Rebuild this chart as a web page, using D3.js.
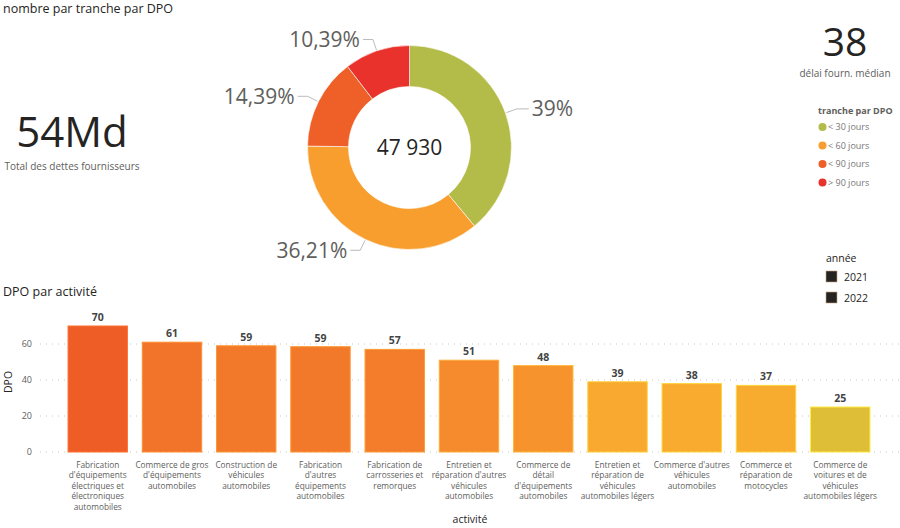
<!DOCTYPE html>
<html>
<head>
<meta charset="utf-8">
<script src="https://d3js.org/d3.v7.min.js"></script>
<style>
  body { margin: 0; background: #fff; }
  text { font-family: "Open Sans", "Noto Sans", sans-serif; }
</style>
</head>
<body>
<script>
// donut data
let tranches = ["< 30 jours", "< 60 jours", "< 90 jours", "> 90 jours"];
let trancheShare = [39, 36.21, 14.39, 10.39];
let trancheLabels = ["39%", "36,21%", "14,39%", "10,39%"];
let trancheColors = ["#B3BC48", "#F79E2E", "#EF5F28", "#E8322B"];

// bar data
let activites = [
  "Fabrication d'équipements électriques et électroniques automobiles",
  "Commerce de gros d'équipements automobiles",
  "Construction de véhicules automobiles",
  "Fabrication d'autres équipements automobiles",
  "Fabrication de carrosseries et remorques",
  "Entretien et réparation d'autres véhicules automobiles",
  "Commerce de détail d'équipements automobiles",
  "Entretien et réparation de véhicules automobiles légers",
  "Commerce d'autres véhicules automobiles",
  "Commerce et réparation de motocycles",
  "Commerce de voitures et de véhicules automobiles légers"
];
let dpo = [70, 61, 59, 58.5, 57, 51, 48, 39, 38, 37, 25];
let dpoLabels = ["70", "61", "59", "59", "57", "51", "48", "39", "38", "37", "25"];
let yTicks = [0, 20, 40, 60];
let annees = ["2021", "2022"];

let W = 900, H = 528;
let svg = d3.select("body").append("svg")
  .attr("width", W)
  .attr("height", H);

// titles
svg.append("text").attr("x", 3).attr("y", 13)
  .attr("font-size", "12.5px").attr("fill", "#252423")
  .text("nombre par tranche par DPO");

svg.append("text").attr("x", 3).attr("y", 296)
  .attr("font-size", "12.5px").attr("fill", "#252423")
  .text("DPO par activité");

// cards
svg.append("text").attr("x", 72).attr("y", 147)
  .attr("text-anchor", "middle")
  .attr("font-size", "42px").attr("fill", "#252423")
  .text("54Md");
svg.append("text").attr("x", 72).attr("y", 170)
  .attr("text-anchor", "middle")
  .attr("font-size", "10px").attr("fill", "#605E5C")
  .text("Total des dettes fournisseurs");

svg.append("text").attr("x", 845).attr("y", 56)
  .attr("text-anchor", "middle")
  .attr("font-size", "39px").attr("fill", "#252423")
  .text("38");
svg.append("text").attr("x", 845).attr("y", 77)
  .attr("text-anchor", "middle")
  .attr("font-size", "10px").attr("fill", "#605E5C")
  .text("délai fourn. médian");

// donut
let cx = 409.5, cy = 147.5, rOut = 102, rIn = 61;
let pie = d3.pie().sort(null).value(d => d);
let arcs = pie(trancheShare);
let arc = d3.arc().innerRadius(rIn).outerRadius(rOut);
let g = svg.append("g").attr("transform", `translate(${cx},${cy})`);

g.selectAll("path.slice")
  .data(arcs)
  .enter()
  .append("path")
  .attr("class", "slice")
  .attr("d", arc)
  .attr("fill", (d, i) => trancheColors[i])
  .attr("stroke", "#fff")
  .attr("stroke-width", 0.6);

g.append("text").attr("x", 0).attr("y", 0)
  .attr("text-anchor", "middle").attr("dy", "0.35em")
  .attr("font-size", "21px").attr("fill", "#252423")
  .text("47 930");

let arcA = d3.arc().innerRadius(rOut + 1).outerRadius(rOut + 1);
let arcB = d3.arc().innerRadius(rOut + 12).outerRadius(rOut + 12);
arcs.forEach((d, i) => {
  let p1 = arcA.centroid(d);
  let p2 = arcB.centroid(d);
  let mid = (d.startAngle + d.endAngle) / 2;
  let right = mid < Math.PI;
  let p3 = [p2[0] + (right ? 12 : -10), p2[1]];
  g.append("polyline")
    .attr("points", [p1, p2, p3].map(p => p.join(",")).join(" "))
    .attr("fill", "none").attr("stroke", "#bbb").attr("stroke-width", 1);
  g.append("text")
    .attr("x", p3[0] + (right ? 3 : -3)).attr("y", p3[1])
    .attr("dy", "0.35em")
    .attr("text-anchor", right ? "start" : "end")
    .attr("font-size", "21px").attr("fill", "#605E5C")
    .text(trancheLabels[i]);
});

// legend tranche
let lg = svg.append("g").attr("transform", "translate(818,111)");
lg.append("text").attr("x", 0).attr("y", 3)
  .attr("font-size", "9px").attr("font-weight", "bold").attr("fill", "#605E5C")
  .text("tranche par DPO");
let li = lg.selectAll("g.item").data(tranches).enter().append("g")
  .attr("transform", (d, i) => `translate(0,${16 + i * 18.5})`);
li.append("circle").attr("cx", 4.5).attr("cy", 0).attr("r", 4)
  .attr("fill", (d, i) => trancheColors[i]);
li.append("text").attr("x", 10).attr("y", 0).attr("dy", "0.35em")
  .attr("font-size", "9px").attr("fill", "#777")
  .text(d => d);

// legend année
svg.append("text").attr("x", 826).attr("y", 262)
  .attr("font-size", "10.5px").attr("fill", "#252423")
  .text("année");
let ag = svg.selectAll("g.annee").data(annees).enter().append("g")
  .attr("transform", (d, i) => `translate(826,${271 + i * 21})`);
ag.append("rect").attr("width", 11).attr("height", 11)
  .attr("fill", "#252423").attr("stroke", "#c8a080").attr("stroke-width", 0.6);
ag.append("text").attr("x", 18).attr("y", 6).attr("dy", "0.35em")
  .attr("font-size", "10.5px").attr("fill", "#252423")
  .text(d => d);

// bar chart
let x = d3.scaleBand()
  .domain(activites)
  .range([60.6, 877.4])
  .paddingInner(0.2)
  .paddingOuter(0.1);
let y = d3.scaleLinear()
  .domain([0, 75])
  .range([452, 317]);

let color = d3.scaleLinear()
  .domain([25, 38, 70])
  .range(["#DEBE36", "#F9AB30", "#EF5D27"]);

let yAxis = d3.axisLeft(y).tickValues(yTicks).tickSize(0).tickPadding(8);
let ya = svg.append("g").attr("transform", "translate(40,0)").call(yAxis);
ya.select(".domain").remove();
ya.selectAll("text").attr("font-size", "9px").attr("fill", "#605E5C")
  .style("font-family", "'Open Sans', sans-serif");

svg.append("g").selectAll("line")
  .data(yTicks).enter().append("line")
  .attr("x1", 40).attr("x2", 900)
  .attr("y1", d => y(d)).attr("y2", d => y(d))
  .attr("stroke", "#c8c8c8").attr("stroke-width", 1)
  .attr("stroke-dasharray", "1,5");

svg.append("text")
  .attr("transform", "translate(12,382) rotate(-90)")
  .attr("text-anchor", "middle")
  .attr("font-size", "10.5px").attr("fill", "#252423")
  .text("DPO");

svg.append("g").selectAll("rect")
  .data(dpo).enter().append("rect")
  .attr("x", (d, i) => x(activites[i]))
  .attr("y", d => y(d))
  .attr("width", x.bandwidth())
  .attr("height", d => y(0) - y(d))
  .attr("fill", d => color(d))
  .attr("stroke", d => d3.color(color(d)).brighter(0.6))
  .attr("stroke-width", 1);

svg.append("g").selectAll("text")
  .data(dpo).enter().append("text")
  .attr("x", (d, i) => x(activites[i]) + x.bandwidth() / 2)
  .attr("y", d => y(d) - 5)
  .attr("text-anchor", "middle")
  .attr("font-size", "10.5px").attr("font-weight", "bold").attr("fill", "#444")
  .text((d, i) => dpoLabels[i]);

// x labels with wrapping
function wrap(textSel, width) {
  textSel.each(function() {
    let t = d3.select(this);
    let words = t.text().split(/\s+/);
    t.text(null);
    let line = [];
    let tspan = t.append("tspan").attr("x", t.attr("x")).attr("dy", 0);
    words.forEach(w => {
      line.push(w);
      tspan.text(line.join(" "));
      if (tspan.node().getComputedTextLength() > width && line.length > 1) {
        line.pop();
        tspan.text(line.join(" "));
        line = [w];
        tspan = t.append("tspan").attr("x", t.attr("x"))
          .attr("dy", "10.4px").text(w);
      }
    });
  });
}

svg.append("g").selectAll("text")
  .data(activites).enter().append("text")
  .attr("x", d => x(d) + x.bandwidth() / 2)
  .attr("y", 468)
  .attr("text-anchor", "middle")
  .attr("font-size", "8.3px").attr("fill", "#605E5C")
  .text(d => d)
  .call(wrap, 76);

svg.append("text").attr("x", 470).attr("y", 523)
  .attr("text-anchor", "middle")
  .attr("font-size", "10.5px").attr("fill", "#252423")
  .text("activité");
</script>
</body>
</html>
